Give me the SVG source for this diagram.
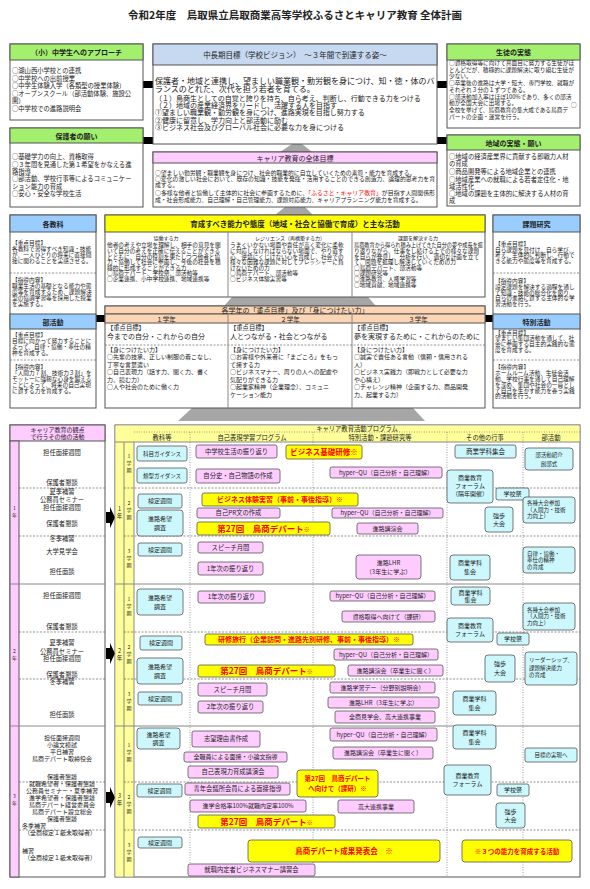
<svg xmlns="http://www.w3.org/2000/svg" width="590" height="889" viewBox="0 0 590 889">
<defs>
<marker id="ah" viewBox="0 0 10 10" refX="8" refY="5" markerWidth="3" markerHeight="3" orient="auto-start-reverse"><path d="M0,0L10,5L0,10z" fill="#000"/></marker>
</defs>
<style>
text{font-family:"Noto Sans CJK JP","Noto Sans",sans-serif;fill:#222}
.c{text-anchor:middle}
.b{font-weight:bold}
.bx{fill:#fff;stroke:#555;stroke-width:1}
.gh{fill:#a3f06e;stroke:#555;stroke-width:1}
.bh{fill:#99ccff;stroke:#555;stroke-width:1}
.vh{fill:#c6d9f1;stroke:#555;stroke-width:1}
.ph{fill:#ffccff;stroke:#555;stroke-width:1}
.pe{fill:#fcd5b4;stroke:#555;stroke-width:1}
.yh{fill:#ffff00;stroke:#555;stroke-width:1}
.cy{fill:#ccf7fc;stroke:#555;stroke-width:0.8}
.pk{fill:#ffccff;stroke:#555;stroke-width:0.8}
.yl{fill:#ffff00;stroke:#555;stroke-width:0.8}
.rt{fill:#ff0000;font-weight:bold;text-anchor:middle}
.dl{stroke:#666;stroke-width:0.7;stroke-dasharray:2 1.5;fill:none}
.dt{stroke:#777;stroke-width:0.7;stroke-dasharray:1 1.5;fill:none}
.sl{stroke:#888;stroke-width:1;fill:none}
.ln{stroke:#000;fill:none;stroke-width:2.5}
.gr{fill:#a6a6a6}
.f5{font-size:5px}.f55{font-size:5.5px}.f57{font-size:5.7px}.f58{font-size:5.8px}.f6{font-size:6px}.f63{font-size:6.3px}.f65{font-size:6.5px}.f7{font-size:7px}.f72{font-size:7.2px}.f75{font-size:7.5px}.f8{font-size:8px}.f85{font-size:8.5px}.f10{font-size:10.5px}
</style>
<rect width="590" height="889" fill="#fff"/>
<text x="295" y="19" class="c b f10">令和2年度　鳥取県立鳥取商業高等学校ふるさとキャリア教育 全体計画</text>

<g id="connectors">
<rect x="143" y="81" width="10" height="7" fill="#000"/>
<rect x="143" y="137" width="10" height="7" fill="#000"/>
<rect x="437" y="81" width="10" height="7" fill="#000"/>
<rect x="437" y="137" width="10" height="7" fill="#000"/>
<rect x="96" y="315" width="9" height="7" fill="#000"/>
<rect x="485" y="315" width="8" height="7" fill="#000"/>
<polygon class="gr" points="292,144 302,144 312,152 280,152"/>
<polygon class="gr" points="285,207 305,207 313,215 275,215"/>
<polygon class="gr" points="232,297 368,297 376,306 224,306"/>
<polygon class="gr" points="192,408 413,408 425,421 178,421"/>
<polygon fill="#000" points="106,512 110,512 110,507 115,517.5 110,528 110,523 106,523"/>
<polygon fill="#000" points="106,648 110,648 110,643 115,653.5 110,664 110,659 106,659"/>
<polygon fill="#000" points="106,792 110,792 110,787 115,797.5 110,808 110,803 106,803"/>
<path class="ln" d="M160,461V832" stroke-width="3.5" marker-end="url(#ah)"/>
<path class="ln" d="M228,458V860" stroke-width="3" marker-end="url(#ah)"/>
<rect x="313.5" y="459" width="9" height="371" fill="#000"/>
<polygon fill="#000" points="306,829 330,829 318,839"/>
<path class="ln" d="M391,478V797" stroke-width="3" marker-end="url(#ah)"/>
<path class="ln" d="M470,458V762" stroke-width="3" marker-end="url(#ah)"/>
<path class="ln" d="M505,500V784"/>
<path class="ln" d="M505,796V802" stroke-width="2" marker-end="url(#ah)"/>
<path class="ln" d="M548,470V746" stroke-width="3" marker-end="url(#ah)"/>
<path class="ln" d="M364,452H453" marker-start="url(#ah)" marker-end="url(#ah)"/>
<path class="ln" d="M330,475H281" marker-end="url(#ah)"/>
<path class="ln" d="M360,499L446,482" marker-end="url(#ah)"/>
<path class="ln" d="M332,513H281" marker-end="url(#ah)"/>
<path class="ln" d="M184,516H196" stroke-width="2" marker-start="url(#ah)" marker-end="url(#ah)"/>
<path class="ln" d="M265,568H355" marker-start="url(#ah)" marker-end="url(#ah)"/>
<path class="ln" d="M422,567H448" marker-start="url(#ah)" marker-end="url(#ah)"/>
<path class="ln" d="M184,597H197" stroke-width="2" marker-start="url(#ah)" marker-end="url(#ah)"/>
<path class="ln" d="M266,597H329" marker-start="url(#ah)" marker-end="url(#ah)"/>
<path class="ln" d="M436,616L450,607" marker-end="url(#ah)"/>
<path class="ln" d="M447,632L414,640" marker-end="url(#ah)"/>
<path class="ln" d="M182,685L197,703" stroke-width="2" marker-end="url(#ah)"/>
<path class="ln" d="M264,707L334,716" marker-start="url(#ah)" marker-end="url(#ah)"/>
<path class="ln" d="M334,716L261,739" marker-end="url(#ah)"/>
<path class="ln" d="M333,752L261,740" marker-end="url(#ah)"/>
<path class="ln" d="M333,757H288" marker-end="url(#ah)"/>
<path class="ln" d="M434,757H525" stroke-width="2"/>
<path class="ln" d="M307,806H337" marker-start="url(#ah)" marker-end="url(#ah)"/>
<path class="ln" d="M379,786L443,776" marker-start="url(#ah)" marker-end="url(#ah)"/>
<path class="ln" d="M437,751L452,745" marker-end="url(#ah)"/>
<path class="ln" d="M440,703H453" stroke-width="2" marker-start="url(#ah)" marker-end="url(#ah)"/>
<path class="ln" d="M513,512H523" stroke-width="2" marker-start="url(#ah)" marker-end="url(#ah)"/>
<path class="ln" d="M515,665H525" stroke-width="2" marker-start="url(#ah)" marker-end="url(#ah)"/>
<path class="ln" d="M180,739H191" stroke-width="2" marker-end="url(#ah)"/>
<path class="ln" d="M182,795L190,805" stroke-width="2" marker-end="url(#ah)"/>
</g>

<g id="approach">
<rect class="bx" x="10" y="44" width="133" height="76"/>
<rect class="gh" x="10" y="44" width="133" height="16"/>
<text x="76.5" y="55" class="c b f7">（小）中学生へのアプローチ</text>
<text class="f63"><tspan x="12" y="73">○湖山西小学校との連携</tspan><tspan x="12" y="81">○中学校への出前授業</tspan><tspan x="12" y="88">○中学生体験入学（各類型の授業体験）</tspan><tspan x="12" y="95.5">○オープンスクール（部活動体験、施設公</tspan><tspan x="12" y="102.5">開）</tspan><tspan x="12" y="110.5">○中学校での進路説明会</tspan></text>
</g>

<g id="parents">
<rect class="bx" x="10" y="128" width="133" height="79"/>
<rect class="gh" x="10" y="128" width="133" height="15"/>
<text x="76.5" y="138.5" class="c b f7">保護者の願い</text>
<text class="f63"><tspan x="12" y="159">○基礎学力の向上、資格取得</tspan><tspan x="12" y="166.5">○３年間を見通した第１希望をかなえる進</tspan><tspan x="12" y="173.5">路指導</tspan><tspan x="12" y="181">○部活動、学校行事等によるコミュニケー</tspan><tspan x="12" y="188.5">ション能力の育成</tspan><tspan x="12" y="196">○安心・安全な学校生活</tspan></text>
</g>

<g id="vision">
<rect class="bx" x="153" y="44" width="284" height="100"/>
<rect class="vh" x="153" y="44" width="284" height="21"/>
<text x="295" y="57.5" class="c f75">中長期目標（学校ビジョン）　～３年間で到達する姿～</text>
<text class="f8"><tspan x="155" y="84">保護者・地域と連携し、望ましい職業観・勤労観を身につけ、知・徳・体のバ</tspan><tspan x="155" y="92">ランスのとれた、次代を担う若者を育てる。</tspan></text>
<text class="f7"><tspan x="155" y="100.5">（１）鳥商生としての自覚と誇りを持ち、自ら考え、判断し、行動できる力をつける</tspan><tspan x="155" y="107.8">（２）地域の産業経済界をリードし、活躍する人を目指す</tspan><tspan x="155" y="115.3">①望ましい職業観・勤労観を身につけ、進路実現を目指し努力する</tspan><tspan x="155" y="122.8">②健康に留意し、学力向上と部活動に励む</tspan><tspan x="155" y="130.3">③ビジネス社会及びグローバル社会に必要な力を身につける</tspan></text>
</g>

<g id="students">
<rect class="bx" x="447" y="44" width="133" height="84"/>
<rect class="gh" x="447" y="44" width="133" height="16"/>
<text x="513.5" y="55" class="c b f7">生徒の実態</text>
<text class="f57"><tspan x="449" y="65">○資格取得等に向けて真面目に努力する生徒がほ</tspan><tspan x="449" y="71.5">とんどだが、積極的に課題解決に取り組む生徒が</tspan><tspan x="449" y="78">少ない。</tspan><tspan x="449" y="85">○卒業後の進路は大学・短大、専門学校、就職が</tspan><tspan x="449" y="91.5">それぞれ３分の１ずつである。</tspan><tspan x="449" y="98.5">○部活動加入率はほぼ100%であり、多くの部活</tspan><tspan x="449" y="105">動が全国大会に出場する。</tspan><tspan x="449" y="112">全校を挙げて、鳥商教育の集大成である鳥商デ</tspan><tspan x="449" y="118.5">パートの企画・運営を行う。</tspan></text>
<text class="f57" x="571" y="107">○</text>
</g>

<g id="region">
<rect class="bx" x="447" y="135" width="133" height="71"/>
<rect class="gh" x="447" y="135" width="133" height="15"/>
<text x="513.5" y="145.5" class="c b f7">地域の実態・願い</text>
<text class="f63"><tspan x="449" y="158.5">○地域の経済産業界に貢献する即戦力人材</tspan><tspan x="449" y="166">の育成</tspan><tspan x="449" y="174">○商品開発等による地域企業との連携</tspan><tspan x="449" y="181.5">○地域産業への就職による若者定住化・地</tspan><tspan x="449" y="188.5">域活性化</tspan><tspan x="449" y="196">○地域の課題を主体的に解決する人材の育</tspan><tspan x="449" y="203">成</tspan></text>
</g>

<g id="career-goal">
<rect class="bx" x="153" y="152" width="284" height="55"/>
<rect class="ph" x="153" y="152" width="284" height="11"/>
<text x="295" y="160.5" class="c f7">キャリア教育の全体目標</text>
<text class="f58" x="155" y="175">○望ましい勤労観・職業観を身につけ、社会的職業的に自立していくための素質・能力を育成する。</text>
<text class="f58" x="155" y="181" textLength="280" lengthAdjust="spacingAndGlyphs">○変化の激しい社会において、既存の知識・技能を発揮・活用することのできる創造力、論理的思考力を育</text>
<text class="f58" x="155" y="187">成する。</text>
<text class="f58" x="155" y="195" textLength="280" lengthAdjust="spacingAndGlyphs">○多様な他者と協働して主体的に社会に参画するために、<tspan fill="#ff0000">「ふるさと・キャリア教育」</tspan>が目指す人間関係形</text>
<text class="f58" x="155" y="201.5">成・社会形成能力、自己理解・自己管理能力、課題対応能力、キャリアプランニング能力を育成する。</text>
</g>

<g id="subjects">
<rect class="bx" x="10" y="215" width="86" height="193"/>
<rect class="bh" x="10" y="215" width="86" height="17"/>
<text x="53" y="226.5" class="c b f7">各教科</text>
<text class="f57"><tspan x="12" y="245">【重点目標】</tspan><tspan x="12" y="251">各教科で習得すべき知識・技能</tspan><tspan x="12" y="257">が、一人ひとりの将来に直接間</tspan><tspan x="12" y="263">接に関わることを実感させる。</tspan><tspan x="12" y="282">【指導内容】</tspan><tspan x="12" y="288">職業生活の基礎となる能力や態</tspan><tspan x="12" y="294">度等を育成するため、課題解決</tspan><tspan x="12" y="300">型の協調学習等を採用した授業</tspan><tspan x="12" y="306">を実施する。</tspan></text>
<path class="dl" d="M10,273H96"/>
</g>

<g id="club">
<rect class="bh" x="10" y="314" width="86" height="15"/>
<text x="53" y="324.5" class="c b f7">部活動</text>
<text class="f57"><tspan x="12" y="337">【重点目標】</tspan><tspan x="12" y="343">目標に向かって努力することに</tspan><tspan x="12" y="349">よって、自律・協働・奉仕の精</tspan><tspan x="12" y="355">神を育成する。</tspan><tspan x="12" y="369">【指導内容】</tspan><tspan x="12" y="375">「人間力７割、技術力３割」を</tspan><tspan x="12" y="381">モットーに強靭な心身を鍛える</tspan><tspan x="12" y="387">ことによって、将来の自己実現</tspan><tspan x="12" y="393">に資する力を育成する。</tspan></text>
<path class="dl" d="M10,360H96"/>
</g>

<g id="abilities">
<rect class="bx" x="105" y="215" width="380" height="82"/>
<rect class="yh" x="105" y="215" width="380" height="17"/>
<text x="295" y="226.5" class="c b f75">育成すべき能力や態度（地域・社会と協働で育成）と主な活動</text>
<path class="sl" d="M228,232V297M352,232V297" stroke="#555"/>
<text x="166" y="239.5" class="c f5">協働する力</text>
<text x="290" y="239.5" class="c f5">レジリエンス（再構築する力）</text>
<text x="418" y="239.5" class="c f5">課題を解決する力</text>
<text class="f57"><tspan x="107" y="247">他者の考えや立場を理解し、相手の意見を聞</tspan><tspan x="107" y="253">いて自分の考えを正確に伝えることができる</tspan><tspan x="107" y="258.7">とともに、自分の役割を果たしつつ他者と協</tspan><tspan x="107" y="264.3">力・協働して社会に参画し、今後の社会を積</tspan><tspan x="107" y="269.7">極的に形成することができる力</tspan><tspan x="107" y="275.3">○鳥商デパート、学校祭、部活動等</tspan><tspan x="107" y="281">○企業連携、小中学校連携、地域連携等</tspan></text>
<text class="f57"><tspan x="230" y="247">うまくいかない場面や責任が高く変化に柔軟</tspan><tspan x="230" y="253">に対応しなければならない場面で、やり直す</tspan><tspan x="230" y="258.7">心、逆境にくじけない心を育成し、社会での</tspan><tspan x="230" y="264.3">様々な困難な課題に対してプレッシャーに負</tspan><tspan x="230" y="269.7">けないための力</tspan><tspan x="230" y="275.3">○鳥商デパート、部活動等</tspan><tspan x="230" y="281">○ビジネス体験実習等</tspan></text>
<text class="f57" x="354" y="247" textLength="129" lengthAdjust="spacingAndGlyphs">鳥商教育から得られ積み上げてきた自分の夢や成長を振</text>
<text class="f57"><tspan x="354" y="253">り返りながら、仕事をし続ける上での様々な課題</tspan><tspan x="354" y="258.7">を自らが発見し、分析を行い、適切な計画を立て</tspan><tspan x="354" y="264.3">て、問題を処理し解決していくための力</tspan><tspan x="354" y="269.7">○鳥商デパート、部活動等</tspan><tspan x="354" y="275.3">○課題研究等</tspan><tspan x="354" y="281">○進路教育、人権学習等</tspan><tspan x="354" y="287">○地域貢献、地域連携等</tspan></text>
</g>

<g id="research">
<rect class="bx" x="493" y="215" width="87" height="193"/>
<rect class="bh" x="493" y="215" width="87" height="17"/>
<text x="536.5" y="226.5" class="c b f7">課題研究</text>
<text class="f57"><tspan x="495" y="245.5">【重点目標】</tspan><tspan x="495" y="251.5">自ら課題を見付け、自ら学び、</tspan><tspan x="495" y="257.3">考え、主体的に判断し、行動で</tspan><tspan x="495" y="263">きる能力や態度等を育成する。</tspan><tspan x="495" y="283">【指導内容】</tspan><tspan x="495" y="288.8">設定課題を解決する過程を通し</tspan><tspan x="495" y="294.5">て知識・技能の総合化を図り、</tspan><tspan x="495" y="300.2">自らの進路に資する主体的な学</tspan><tspan x="495" y="306">習活動を行う。</tspan></text>
<path class="dl" d="M493,273H580"/>
</g>

<g id="special">
<rect class="bh" x="493" y="314" width="87" height="15"/>
<text x="536.5" y="324.5" class="c b f7">特別活動</text>
<text class="f57"><tspan x="495" y="334.5">【重点目標】</tspan><tspan x="495" y="340.3">望ましい集団活動を通して、社</tspan><tspan x="495" y="346">会に参画する自主的実践的な態</tspan><tspan x="495" y="351.8">度を育成する。</tspan><tspan x="495" y="369">【指導内容】</tspan><tspan x="495" y="375">ホームルーム活動、生徒会活</tspan><tspan x="495" y="381">動、学校行事を通して自己理解</tspan><tspan x="495" y="386.8">を深め、集団や社会の一員とし</tspan><tspan x="495" y="392.5">て自己を生かす能力を養う実践</tspan><tspan x="495" y="398.3">的活動を行う。</tspan></text>
<path class="dl" d="M493,360H580"/>
</g>

<g id="grade-goals">
<rect class="bx" x="105" y="306" width="380" height="102"/>
<rect class="pe" x="105" y="306" width="380" height="8"/>
<rect class="pe" x="105" y="314" width="380" height="9"/>
<text x="295" y="312.8" class="c f7">各学年の「重点目標」及び「身につけたい力」</text>
<text x="166" y="321.5" class="c f65">１学年</text>
<text x="290" y="321.5" class="c f65">２学年</text>
<text x="418" y="321.5" class="c f65">３学年</text>
<path class="sl" d="M228,314V408M352,314V408" stroke="#555"/>
<path class="dl" d="M105,345H485"/>
<text class="f63" x="107" y="329.8">【重点目標】</text>
<text class="f7" x="107" y="338.5">今までの自分・これからの自分</text>
<text class="f6"><tspan x="107" y="351.5">【身につけたい力】</tspan><tspan x="107" y="359">○先輩の技承、正しい制服の着こなし、</tspan><tspan x="107" y="366.5">丁寧な言葉遣い</tspan><tspan x="107" y="374">○自己表現力（話す力、聞く力、書く</tspan><tspan x="107" y="381.5">力、読む力）</tspan><tspan x="107" y="389">○人や社会のために働く力</tspan></text>
<text class="f63" x="230" y="329.8">【重点目標】</text>
<text class="f7" x="230" y="338.5">人とつながる・社会とつながる</text>
<text class="f6"><tspan x="230" y="351.5">【身につけたい力】</tspan><tspan x="230" y="359">○お客様や外来者に「まごころ」をもっ</tspan><tspan x="230" y="366.5">て接する力</tspan><tspan x="230" y="374">○ビジネスマナー、周りの人への配慮や</tspan><tspan x="230" y="381.5">気配りができる力</tspan><tspan x="230" y="389">○起業家精神（企業理念）、コミュニ</tspan><tspan x="230" y="396.5">ケーション能力</tspan></text>
<text class="f63" x="354" y="329.8">【重点目標】</text>
<text class="f7" x="354" y="338.5">夢を実現するために・これからのために</text>
<text class="f6"><tspan x="354" y="351.5">【身につけたい力】</tspan><tspan x="354" y="359">○誠実で責任ある言動（信頼・信用される</tspan><tspan x="354" y="366.5">人）</tspan><tspan x="354" y="374">○ビジネス実践力（即戦力として必要な力</tspan><tspan x="354" y="381.5">や心構え）</tspan><tspan x="354" y="389">○チャレンジ精神（企画する力、商品開発</tspan><tspan x="354" y="396.5">力、起業する力）</tspan></text>
</g>

<g id="other-activities">
<rect class="bx" x="10" y="425" width="95" height="452"/>
<rect class="ph" x="10" y="425" width="95" height="16"/>
<text class="c f6"><tspan x="57.5" y="432">キャリア教育の観点</tspan><tspan x="57.5" y="439">で行うその他の活動</tspan></text>
<rect class="ph" x="10" y="441" width="9" height="436"/>
<path class="sl" d="M10,584H105M10,726H105" stroke="#777"/>
<path class="dl" d="M19,488H105M19,536H105M19,632H105M19,679H105M19,782H105M19,830H105"/>
<text class="c f5"><tspan x="14.5" y="510">1</tspan><tspan x="14.5" y="517">年</tspan><tspan x="14.5" y="653">2</tspan><tspan x="14.5" y="660">年</tspan><tspan x="14.5" y="798">3</tspan><tspan x="14.5" y="805">年</tspan></text>
<text class="c f63"><tspan x="62" y="455">担任面接週間</tspan><tspan x="62" y="485">保護者懇談</tspan><tspan x="62" y="494">夏季補習</tspan><tspan x="62" y="502">公務員セミナー</tspan><tspan x="62" y="510">担任面接週間</tspan><tspan x="62" y="526">保護者懇談</tspan><tspan x="62" y="541">冬季補習</tspan><tspan x="62" y="554">大学見学会</tspan><tspan x="62" y="574">担任面談</tspan><tspan x="62" y="598">担任面接週間</tspan><tspan x="62" y="629">保護者懇談</tspan><tspan x="62" y="645">夏季補習</tspan><tspan x="62" y="653.5">公務員セミナー</tspan><tspan x="62" y="661">担任面接週間</tspan><tspan x="62" y="676.5">保護者懇談</tspan><tspan x="62" y="683.5">冬季補習</tspan><tspan x="62" y="717">担任面談</tspan></text>
<text class="c f6"><tspan x="62" y="740">担任面接週間</tspan><tspan x="62" y="747">小論文模試</tspan><tspan x="62" y="754">平日補習</tspan><tspan x="62" y="761">鳥商デパート取締役会</tspan><tspan x="62" y="779">保護者懇談</tspan><tspan x="62" y="786">就職希望者・保護者懇談</tspan><tspan x="62" y="793">公務員セミナー・夏季補習</tspan><tspan x="62" y="799.7">進学希望者・保護者懇談</tspan><tspan x="62" y="806.5">鳥商デパート経営委員会</tspan><tspan x="62" y="813.5">鳥商デパート設立総会</tspan><tspan x="62" y="820.5">保護者懇談</tspan></text>
<text class="f6"><tspan x="22" y="827.5">冬季補習</tspan><tspan x="24" y="834.5">（全商検定１級未取得者）</tspan><tspan x="22" y="852.5">補習</tspan><tspan x="24" y="859.5">（全商検定１級未取得者）</tspan></text>
</g>

<g id="program-frame">
<rect class="bx" x="115" y="425" width="465" height="452"/>
<rect fill="#ffff99" x="115.5" y="425.5" width="464" height="16.5"/>
<rect fill="#ffff99" x="115.5" y="442" width="18.5" height="434.5"/>
<path class="sl" d="M115,442H580M124,442V877M134,442V877" stroke="#777"/>
<path class="dt" d="M134,432H580"/>
<text x="357" y="431" class="c f63">キャリア教育活動プログラム</text>
<text class="c f63"><tspan x="162" y="440">教科等</tspan><tspan x="252" y="440">自己表現学習プログラム</tspan><tspan x="380" y="440">特別活動・課題研究等</tspan><tspan x="485" y="440">その他の行事</tspan><tspan x="551" y="440">部活動</tspan></text>
<path class="dt" d="M190,432V877M313,432V877M447,432V877M523,432V877"/>
<path class="sl" d="M115,584H580M115,726H580" stroke="#777"/>
<path class="dl" d="M124,488H580M124,536H580M124,632H580M124,679H580M124,782H580M124,830H580"/>
<text class="c f55"><tspan x="119.5" y="511">1</tspan><tspan x="119.5" y="518">年</tspan><tspan x="119.5" y="653">2</tspan><tspan x="119.5" y="660">年</tspan><tspan x="119.5" y="798">3</tspan><tspan x="119.5" y="805">年</tspan></text>
<text class="c f5"><tspan x="129" y="458">1</tspan><tspan x="129" y="465">学</tspan><tspan x="129" y="472">期</tspan><tspan x="129" y="505">2</tspan><tspan x="129" y="512">学</tspan><tspan x="129" y="519">期</tspan><tspan x="129" y="553">3</tspan><tspan x="129" y="560">学</tspan><tspan x="129" y="567">期</tspan><tspan x="129" y="601">1</tspan><tspan x="129" y="608">学</tspan><tspan x="129" y="615">期</tspan><tspan x="129" y="649">2</tspan><tspan x="129" y="656">学</tspan><tspan x="129" y="663">期</tspan><tspan x="129" y="696">3</tspan><tspan x="129" y="703">学</tspan><tspan x="129" y="710">期</tspan><tspan x="129" y="747">1</tspan><tspan x="129" y="754">学</tspan><tspan x="129" y="761">期</tspan><tspan x="129" y="799">2</tspan><tspan x="129" y="806">学</tspan><tspan x="129" y="813">期</tspan><tspan x="129" y="847">3</tspan><tspan x="129" y="854">学</tspan><tspan x="129" y="861">期</tspan></text>
</g>

<g id="k1"><rect class="cy" x="137" y="446" width="50" height="15" rx="2"/><text x="162" y="455.5" class="c f55">科目ガイダンス</text></g>
<g id="k2"><rect class="cy" x="137" y="468" width="50" height="15" rx="2"/><text x="162" y="477.5" class="c f55">類型ガイダンス</text></g>
<g id="k3"><rect class="cy" x="138" y="494" width="44" height="14" rx="2"/><text x="160" y="503" class="c f6">検定週間</text></g>
<g id="k4"><rect class="cy" x="137" y="510" width="46" height="26" rx="3"/><text class="c f6"><tspan x="160" y="520.5">進路希望</tspan><tspan x="160" y="530">調査</tspan></text></g>
<g id="k5"><rect class="cy" x="138" y="543" width="44" height="13" rx="2"/><text x="160" y="551.7" class="c f6">検定週間</text></g>
<g id="k6"><rect class="cy" x="137" y="589" width="46" height="26" rx="3"/><text class="c f6"><tspan x="160" y="599.5">進路希望</tspan><tspan x="160" y="609">調査</tspan></text></g>
<g id="k7"><rect class="cy" x="140" y="636" width="42" height="14" rx="2"/><text x="161" y="645" class="c f6">検定週間</text></g>
<g id="k8"><rect class="cy" x="137" y="658" width="46" height="26" rx="3"/><text class="c f6"><tspan x="160" y="668.5">進路希望</tspan><tspan x="160" y="678">調査</tspan></text></g>
<g id="k9"><rect class="cy" x="138" y="692" width="44" height="13" rx="2"/><text x="160" y="700.7" class="c f6">検定週間</text></g>
<g id="k10"><rect class="cy" x="137" y="728" width="43" height="21" rx="3"/><text class="c f6"><tspan x="158.5" y="736.5">進路希望</tspan><tspan x="158.5" y="744.5">調査</tspan></text></g>
<g id="k11"><rect class="cy" x="137" y="784" width="45" height="13" rx="2"/><text x="159.5" y="792.7" class="c f6">検定週間</text></g>
<g id="k12"><rect class="cy" x="138" y="837" width="44" height="11" rx="2"/><text x="160" y="844.6" class="c f6">検定週間</text></g>

<g id="p1"><rect class="pk" x="196" y="445" width="81" height="13" rx="2"/><text x="236.5" y="453.8" class="c f63">中学校生活の振り返り</text></g>
<g id="p2"><rect class="pk" x="196" y="469" width="84" height="14" rx="2"/><text x="238" y="478.3" class="c f63">自分史・自己物語の作成</text></g>
<g id="p3"><rect class="pk" x="197" y="508" width="83" height="10" rx="2"/><text x="238.5" y="515.3" class="c f63">自己PR文の作成</text></g>
<g id="p4"><rect class="pk" x="198" y="542" width="65" height="11" rx="2"/><text x="230.5" y="549.8" class="c f63">スピーチ月間</text></g>
<g id="p5"><rect class="pk" x="198" y="562" width="65" height="13" rx="2"/><text x="230.5" y="570.8" class="c f63">1年次の振り返り</text></g>
<g id="p6"><rect class="pk" x="198" y="591" width="67" height="12" rx="2"/><text x="231.5" y="599.3" class="c f63">1年次の振り返り</text></g>
<g id="p7"><rect class="pk" x="198" y="683" width="69" height="13" rx="2"/><text x="232.5" y="691.8" class="c f63">スピーチ月間</text></g>
<g id="p8"><rect class="pk" x="198" y="701" width="65" height="12" rx="2"/><text x="230.5" y="709.3" class="c f63">2年次の振り返り</text></g>
<g id="p9"><rect class="pk" x="192" y="731" width="68" height="16" rx="2"/><text x="226" y="741.3" class="c f63">志望理由書作成</text></g>
<g id="p10"><rect class="pk" x="184" y="752" width="103" height="10" rx="2"/><text x="235.5" y="759.3" class="c f6">全職員による面接・小論文指導</text></g>
<g id="p11"><rect class="pk" x="188" y="766" width="90" height="12" rx="2"/><text x="233" y="774.3" class="c f63">自己表現力育成講演会</text></g>
<g id="p12"><rect class="pk" x="185" y="783" width="105" height="12" rx="2"/><text x="237.5" y="791.3" class="c f63">青年会議所会員による面接指導</text></g>
<g id="p13"><rect class="pk" x="190" y="800" width="116" height="12" rx="2"/><text x="248" y="808.3" class="c f6">進学合格率100%就職内定率100%</text></g>
<g id="p14"><rect class="pk" x="188" y="864" width="127" height="12" rx="2"/><text x="251.5" y="872.3" class="c f63">就職内定者ビジネスマナー講習会</text></g>

<g id="s1"><rect class="pk" x="330" y="467" width="112" height="11" rx="2"/><text x="386" y="474.6" class="c f6">hyper−QU（自己分析・自己理解）</text></g>
<g id="s2"><rect class="pk" x="332" y="508" width="111" height="10" rx="2"/><text x="387.5" y="515.1" class="c f6">hyper−QU（自己分析・自己理解）</text></g>
<g id="s3"><rect class="pk" x="357" y="523" width="61" height="11" rx="2"/><text x="387.5" y="530.6" class="c f6">進路講演会</text></g>
<g id="s4"><rect class="pk" x="356" y="555" width="65" height="24" rx="3"/><text class="c f6"><tspan x="388.5" y="565">進路LHR</tspan><tspan x="388.5" y="574">（3年生に学ぶ）</tspan></text></g>
<g id="s5"><rect class="pk" x="330" y="591" width="105" height="10" rx="2"/><text x="382.5" y="598.1" class="c f6">hyper−QU（自己分析・自己理解）</text></g>
<g id="s6"><rect class="pk" x="342" y="611" width="93" height="11" rx="2"/><text x="388.5" y="618.6" class="c f6">資格取得へ向けて（課研）</text></g>
<g id="s7"><rect class="pk" x="334" y="649" width="104" height="11" rx="2"/><text x="386" y="656.6" class="c f6">hyper−QU（自己分析・自己理解）</text></g>
<g id="s8"><rect class="pk" x="348" y="665" width="95" height="11" rx="2"/><text x="395.5" y="672.6" class="c f6">進路講演会（卒業生に聞く）</text></g>
<g id="s9"><rect class="pk" x="330" y="682" width="105" height="11" rx="2"/><text x="382.5" y="689.6" class="c f6">進路学習デー（分野別説明会）</text></g>
<g id="s10"><rect class="pk" x="328" y="697" width="111" height="11" rx="2"/><text x="383.5" y="704.6" class="c f6">進路LHR（3年生に学ぶ）</text></g>
<g id="s11"><rect class="pk" x="335" y="711" width="100" height="12" rx="2"/><text x="385" y="719.1" class="c f6">全商見学会、高大連携事業</text></g>
<g id="s12"><rect class="pk" x="330" y="728" width="107" height="13" rx="2"/><text x="383.5" y="736.6" class="c f6">hyper−QU（自己分析・自己理解）</text></g>
<g id="s13"><rect class="pk" x="333" y="747" width="100" height="12" rx="2"/><text x="383" y="755.1" class="c f6">進路講演会（卒業生に聞く）</text></g>
<g id="s14"><rect class="pk" x="338" y="800" width="76" height="13" rx="2"/><text x="376" y="808.6" class="c f6">高大連携事業</text></g>

<g id="y1"><rect class="yl" x="286" y="445" width="76" height="14" rx="2"/><text x="324" y="454.7" class="rt f75">ビジネス基礎研修※</text></g>
<g id="y2"><rect class="yl" x="202" y="493" width="156" height="13" rx="2"/><text x="280" y="502" class="rt f7">ビジネス体験実習（事前・事後指導）※</text></g>
<g id="y3"><rect class="yl" x="197" y="522" width="133" height="13" rx="2"/><text x="263.5" y="531.8" class="rt f85">第27回　鳥商デパート<tspan class="f6">※</tspan></text></g>
<g id="y4"><rect class="yl" x="205" y="634" width="208" height="11" rx="2"/><text x="309" y="642" class="rt f7">研修旅行（企業訪問・進路先別研修、事前・事後指導）※</text></g>
<g id="y5"><rect class="yl" x="198" y="665" width="137" height="12" rx="2"/><text x="266.5" y="674" class="rt f85">第27回　鳥商デパート<tspan class="f6">※</tspan></text></g>
<g id="y6"><rect class="yl" x="297" y="770" width="81" height="27" rx="3"/><text class="rt f65"><tspan x="337.5" y="781">第27回　鳥商デパート</tspan><tspan x="337.5" y="791">へ向けて（課研）※</tspan></text></g>
<g id="y7"><rect class="yl" x="198" y="815" width="137" height="13" rx="2"/><text x="266.5" y="824.8" class="rt f85">第27回　鳥商デパート<tspan class="f6">※</tspan></text></g>
<g id="y8"><rect class="yl" x="248" y="840" width="192" height="22" rx="3"/><text x="344" y="853.5" class="rt f75">鳥商デパート成果発表会　※</text></g>
<g id="y9"><rect class="yl" x="462" y="840" width="110" height="22" rx="3"/><text x="517" y="853.5" class="rt f65">※３つの能力を育成する活動</text></g>

<g id="c1"><rect class="cy" x="455" y="445" width="61" height="13" rx="2"/><text x="485.5" y="453.8" class="c f65">商業学科集会</text></g>
<g id="c2"><rect class="cy" x="525" y="448" width="48" height="22" rx="3"/><text class="c f55"><tspan x="549" y="457">部活動紹介</tspan><tspan x="549" y="465.5">創部式</tspan></text></g>
<g id="c3"><rect class="cy" x="447" y="470" width="46" height="33" rx="3"/><text class="c f6"><tspan x="470" y="480">商業教育</tspan><tspan x="470" y="488">フォーラム</tspan><tspan x="470" y="496">（隔年開催）</tspan></text></g>
<g id="c4"><rect class="cy" x="496" y="488" width="33" height="12" rx="2"/><text x="512.5" y="496.3" class="c f6">学校祭</text></g>
<g id="c5"><rect class="cy" x="485" y="507" width="28" height="25" rx="3"/><text class="c f6"><tspan x="499" y="517.5">強歩</tspan><tspan x="499" y="526">大会</tspan></text></g>
<g id="c6"><rect class="cy" x="523" y="497" width="52" height="26" rx="3"/><text class="f55"><tspan x="527" y="505">各種大会参加</tspan><tspan x="527" y="511.5">（人間力・技術</tspan><tspan x="527" y="518">力向上）</tspan></text></g>
<g id="c7"><rect class="cy" x="523" y="547" width="52" height="26" rx="3"/><text class="f55"><tspan x="527" y="555.5">自律・協働・</tspan><tspan x="527" y="562">奉仕の精神</tspan><tspan x="527" y="568.5">の育成</tspan></text></g>
<g id="c8"><rect class="cy" x="450" y="555" width="40" height="25" rx="3"/><text class="c f6"><tspan x="470" y="565">商業学科</tspan><tspan x="470" y="574">集会</tspan></text></g>
<g id="c9"><rect class="cy" x="451" y="587" width="39" height="18" rx="3"/><text class="c f6"><tspan x="470.5" y="594.5">商業学科</tspan><tspan x="470.5" y="602">集会</tspan></text></g>
<g id="c10"><rect class="cy" x="523" y="603" width="52" height="27" rx="3"/><text class="f55"><tspan x="527" y="611.5">各種大会参加</tspan><tspan x="527" y="618">（人間力・技術</tspan><tspan x="527" y="624.5">力向上）</tspan></text></g>
<g id="c11"><rect class="cy" x="447" y="618" width="46" height="24" rx="3"/><text class="c f6"><tspan x="470" y="628">商業教育</tspan><tspan x="470" y="636">フォーラム</tspan></text></g>
<g id="c12"><rect class="cy" x="497" y="633" width="32" height="12" rx="2"/><text x="513" y="641.3" class="c f6">学校祭</text></g>
<g id="c13"><rect class="cy" x="485" y="655" width="30" height="27" rx="3"/><text class="c f6"><tspan x="500" y="666">強歩</tspan><tspan x="500" y="675">大会</tspan></text></g>
<g id="c14"><rect class="cy" x="525" y="652" width="52" height="33" rx="3"/><text class="f55"><tspan x="529" y="662">リーダーシップ、</tspan><tspan x="529" y="669.5">課題解決能力</tspan><tspan x="529" y="677">の育成</tspan></text></g>
<g id="c15"><rect class="cy" x="453" y="691" width="43" height="24" rx="3"/><text class="c f6"><tspan x="474.5" y="701">商業学科</tspan><tspan x="474.5" y="709.5">集会</tspan></text></g>
<g id="c16"><rect class="cy" x="453" y="725" width="43" height="24" rx="3"/><text class="c f6"><tspan x="474.5" y="735">商業学科</tspan><tspan x="474.5" y="743.5">集会</tspan></text></g>
<g id="c17"><rect class="cy" x="525" y="748" width="52" height="14" rx="2"/><text x="551" y="757.2" class="c f55">目標の実現へ</text></g>
<g id="c18"><rect class="cy" x="444" y="765" width="47" height="30" rx="3"/><text class="c f6"><tspan x="467.5" y="777.5">商業教育</tspan><tspan x="467.5" y="786">フォーラム</tspan></text></g>
<g id="c19"><rect class="cy" x="497" y="784" width="32" height="12" rx="2"/><text x="513" y="792.3" class="c f6">学校祭</text></g>
<g id="c20"><rect class="cy" x="496" y="803" width="29" height="25" rx="3"/><text class="c f6"><tspan x="510.5" y="813.5">強歩</tspan><tspan x="510.5" y="822">大会</tspan></text></g>
</svg>
